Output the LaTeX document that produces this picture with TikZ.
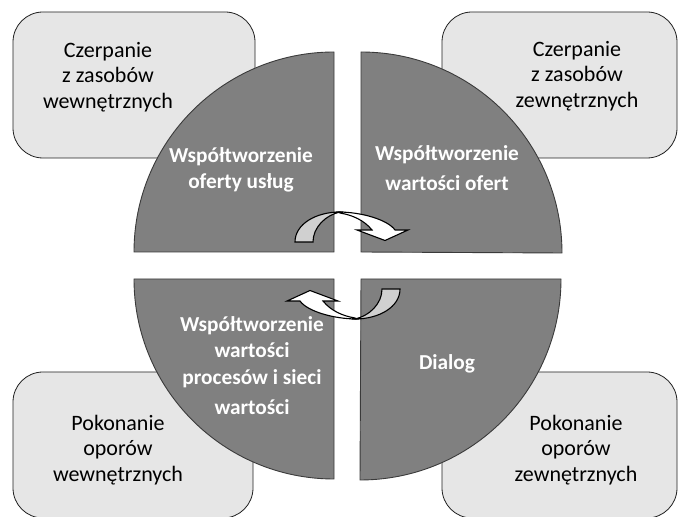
\documentclass[tikz,border=0pt]{standalone}
\usepackage{fontspec}
\setmainfont{Carlito}
\definecolor{boxfill}{HTML}{E6E6E6}
\definecolor{boxline}{HTML}{202020}
\definecolor{quarterfill}{HTML}{808080}
\definecolor{quarterline}{HTML}{3A3A3A}
\definecolor{tailgray}{HTML}{D0D0D0}
\begin{document}
\begin{tikzpicture}[x=1pt,y=1pt,
  cornerbox/.style={draw=boxline,fill=boxfill,line width=0.8pt,rounded corners=30pt},
  quarter/.style={draw=quarterline,fill=quarterfill,line width=0.9pt},
  boxtext/.style={align=center,font=\fontsize{22}{25.5}\selectfont,text=black,inner sep=0pt},
  quartertext/.style={align=center,font=\fontsize{21.3}{26}\selectfont\bfseries,text=white,inner sep=0pt},
  arrowpart/.style={draw=black,line width=1.1pt,line join=miter}]
\useasboundingbox (0,0) rectangle (679,516);
% corner boxes
\draw[cornerbox] (13,358) rectangle (255,504);
\draw[cornerbox] (442,358) rectangle (677,504);
\draw[cornerbox] (13,-2) rectangle (253,144);
\draw[cornerbox] (442,-2) rectangle (677,144);
% quarters
\draw[quarter] (334,264) -- (134,264) arc[start angle=180,end angle=90,radius=200pt] -- cycle;
\draw[quarter] (361,264) -- (361,464) arc[start angle=90,end angle=0,radius=201pt] -- cycle;
\draw[quarter] (334,237) -- (334,37) arc[start angle=270,end angle=180,radius=200pt] -- cycle;
\draw[quarter] (361,237) -- (561,237) arc[start angle=0,end angle=-90,radius=201pt] -- cycle;
% box texts
\node[boxtext] (tl) at (108,439) {Czerpanie\\z zasobów\\wewnętrznych};
\node[boxtext] (tr) at (577,440) {Czerpanie\\z zasobów\\zewnętrznych};
\node[boxtext] (bl) at (118,66) {Pokonanie\\oporów\\wewnętrznych};
\node[boxtext] (br) at (576,66) {Pokonanie\\oporów\\zewnętrznych};
% quarter texts
\node[quartertext] (qtl) at (241,346) {Współtworzenie\\oferty usług};
\node[quartertext] (qtr) at (447,348) {Współtworzenie\\[4pt]wartości ofert};
\node[quartertext] (qbl) at (252,150) {Współtworzenie\\wartości\\[1pt]procesów i sieci\\[4pt]wartości};
\node[quartertext] (qbr) at (447,152) {Dialog};
% curved arrows
\foreach \ang in {0,180}{
\begin{scope}[rotate around={\ang:(347.5,250.5)}]
\draw[arrowpart,fill=tailgray] (295,274) .. controls (295,292) and (316,304) .. (340,304)
   .. controls (326,301) and (313,289) .. (313,274) -- cycle;
\draw[arrowpart,fill=white] (338,304) .. controls (362,304) and (388,296) .. (395,286)
   -- (408,286) -- (385,275.5) -- (357,286) -- (372,286)
   .. controls (364,296) and (352,301) .. (340,303) -- cycle;
\end{scope}
}
\end{tikzpicture}
\end{document}
